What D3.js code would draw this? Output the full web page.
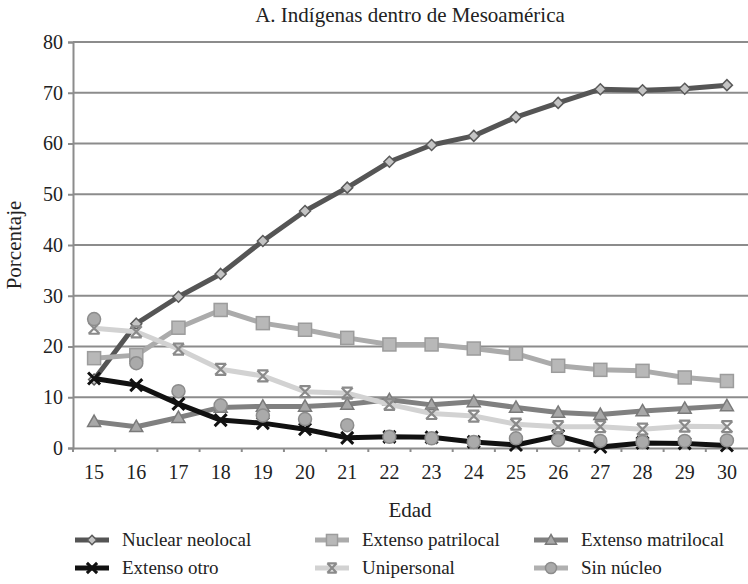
<!DOCTYPE html>
<html>
<head>
<meta charset="utf-8">
<script src="https://cdn.jsdelivr.net/npm/d3@7"></script>
<style>
  html, body { margin: 0; padding: 0; background: #fff; }
  svg { display: block; }
  svg text { font-family: "Liberation Serif", "Times New Roman", Tinos, "DejaVu Serif", "Noto Serif", Georgia, serif !important; fill: #222; }
</style>
</head>
<body>
<svg id="chart" width="748" height="584"></svg>
<script>
const title = "A. Indígenas dentro de Mesoamérica";
const xTitle = "Edad";
const yTitle = "Porcentaje";
const ages = [15,16,17,18,19,20,21,22,23,24,25,26,27,28,29,30];
const yTicks = [0,10,20,30,40,50,60,70,80];
const seriesNames = ["Nuclear neolocal","Extenso patrilocal","Extenso matrilocal","Extenso otro","Unipersonal","Sin núcleo"];
const nuclearNeolocal   = [13.5,24.5,29.8,34.3,40.8,46.7,51.3,56.4,59.7,61.5,65.2,68.0,70.7,70.5,70.8,71.5];
const extensoPatrilocal = [17.7,18.3,23.7,27.2,24.6,23.3,21.7,20.4,20.4,19.6,18.6,16.2,15.4,15.2,13.9,13.2];
const extensoMatrilocal = [5.2,4.2,6.0,8.0,8.2,8.2,8.6,9.5,8.5,9.1,8.0,7.0,6.6,7.3,7.8,8.3];
const extensoOtro       = [13.7,12.4,8.7,5.5,4.9,3.7,2.0,2.2,2.1,1.2,0.6,2.4,0.2,1.0,0.9,0.5];
const unipersonal       = [23.6,22.9,19.5,15.5,14.2,11.1,10.8,8.6,6.8,6.3,4.7,4.2,4.2,3.7,4.3,4.2];
const sinNucleo         = [25.4,16.7,11.2,8.4,6.4,5.7,4.5,2.2,1.9,1.2,1.9,1.6,1.4,1.2,1.4,1.5];

const seriesValues = [nuclearNeolocal, extensoPatrilocal, extensoMatrilocal, extensoOtro, unipersonal, sinNucleo];
const styles = [
  {line:"#555555", marker:"diamond"},
  {line:"#ababab", marker:"square"},
  {line:"#808080", marker:"triangle"},
  {line:"#111111", marker:"x"},
  {line:"#d2d2d2", marker:"star"},
  {line:null,      marker:"circle", legendLine:"#b0b0b0"}
];
const FONT = '"Liberation Serif", "Times New Roman", Tinos, "DejaVu Serif", "Noto Serif", Georgia, serif';

const svg = d3.select("#chart");
const L = 73, R = 748, T = 42, B = 448;
const x = d3.scaleBand().domain(ages).range([L, R]);
const y = d3.scaleLinear().domain([0, 80]).range([B, T]);
const cx = a => x(a) + x.bandwidth() / 2;

// gridlines
svg.append("g").selectAll("line").data(yTicks.filter(d => d > 0)).join("line")
  .attr("x1", L).attr("x2", R).attr("y1", d => y(d)).attr("y2", d => y(d))
  .attr("stroke", "#8c8c8c").attr("stroke-width", 2);

// y axis
const yAxis = svg.append("g").attr("transform", `translate(${L},0)`)
  .call(d3.axisLeft(y).tickValues(yTicks).tickSize(5).tickPadding(5))
  .attr("font-family", FONT);
yAxis.select(".domain").attr("stroke", "#8c8c8c").attr("stroke-width", 2);
yAxis.selectAll(".tick line").attr("stroke", "#8c8c8c").attr("stroke-width", 2);
yAxis.selectAll("text").attr("font-size", 20).attr("fill", "#222");

// x axis
const xAxis = svg.append("g").attr("transform", `translate(0,${B})`)
  .call(d3.axisBottom(x).tickSize(0).tickPadding(17))
  .attr("font-family", FONT);
xAxis.select(".domain").attr("stroke", "#8c8c8c").attr("stroke-width", 2);
xAxis.selectAll("text").attr("font-size", 20).attr("fill", "#222");
// boundary tick marks
svg.append("g").selectAll("line").data(ages).join("line")
  .attr("x1", d => x(d)).attr("x2", d => x(d))
  .attr("y1", B).attr("y2", B + 4)
  .attr("stroke", "#8c8c8c").attr("stroke-width", 2);

// markers
function drawMarker(g, type, px, py, s) {
  s = s || 1;
  if (type === "diamond") {
    const r = 5.5 * s;
    g.append("path").attr("d", `M${px},${py-r}L${px+r},${py}L${px},${py+r}L${px-r},${py}Z`)
      .attr("fill", "#c4c4c4").attr("stroke", "#5a5a5a").attr("stroke-width", 1.5);
  } else if (type === "square") {
    const r = 6.5 * s;
    g.append("rect").attr("x", px - r).attr("y", py - r).attr("width", 2*r).attr("height", 2*r)
      .attr("fill", "#b8b8b8").attr("stroke", "#9c9c9c").attr("stroke-width", 1.5);
  } else if (type === "triangle") {
    const r = 6.5 * s;
    g.append("path").attr("d", `M${px},${py-r}L${px+r},${py+r*0.75}L${px-r},${py+r*0.75}Z`)
      .attr("fill", "#a8a8a8").attr("stroke", "#7a7a7a").attr("stroke-width", 1.5);
  } else if (type === "x") {
    const r = 6 * s;
    g.append("path").attr("d", `M${px-r},${py-r}L${px+r},${py+r}M${px-r},${py+r}L${px+r},${py-r}`)
      .attr("stroke", "#111").attr("stroke-width", 3);
  } else if (type === "star") {
    const r = 5.5 * s;
    g.append("path").attr("d", `M${px-r},${py-r}L${px+r},${py+r}M${px-r},${py+r}L${px+r},${py-r}M${px-r},${py-r}L${px+r},${py-r}M${px-r},${py+r}L${px+r},${py+r}`)
      .attr("stroke", "#8a8a8a").attr("stroke-width", 2.2);
  } else if (type === "circle") {
    g.append("circle").attr("cx", px).attr("cy", py).attr("r", 6.5 * s)
      .attr("fill", "#aaaaaa").attr("stroke", "#8c8c8c").attr("stroke-width", 1.5);
  }
}

const line = d3.line().x((d, i) => cx(ages[i])).y(d => y(d));
seriesValues.forEach((vals, k) => {
  const st = styles[k];
  const g = svg.append("g");
  if (st.line) {
    g.append("path").datum(vals).attr("d", line)
      .attr("fill", "none").attr("stroke", st.line).attr("stroke-width", 5)
      .attr("stroke-linejoin", "round");
  }
  vals.forEach((v, i) => drawMarker(g, st.marker, cx(ages[i]), y(v)));
});

// titles
svg.append("text").attr("x", 410).attr("y", 22).attr("text-anchor", "middle")
  .attr("font-family", FONT).attr("font-size", 21).text(title);
svg.append("text").attr("x", 410).attr("y", 517).attr("text-anchor", "middle")
  .attr("font-family", FONT).attr("font-size", 21).text(xTitle);
svg.append("text").attr("transform", "translate(21,245) rotate(-90)").attr("text-anchor", "middle")
  .attr("font-family", FONT).attr("font-size", 21).text(yTitle);

// legend
const legCols = [75, 315, 534];
const legRows = [540, 568];
seriesNames.forEach((name, k) => {
  const col = k % 3, row = Math.floor(k / 3);
  const lx = legCols[col], ly = legRows[row];
  const st = styles[k];
  const g = svg.append("g");
  g.append("line").attr("x1", lx).attr("x2", lx + 34).attr("y1", ly).attr("y2", ly)
    .attr("stroke", st.line || st.legendLine).attr("stroke-width", 5);
  drawMarker(g, st.marker, lx + 17, ly, 0.85);
  g.append("text").attr("x", lx + 47).attr("y", ly + 6)
    .attr("font-family", FONT).attr("font-size", 19).text(name);
});
</script>
</body>
</html>
